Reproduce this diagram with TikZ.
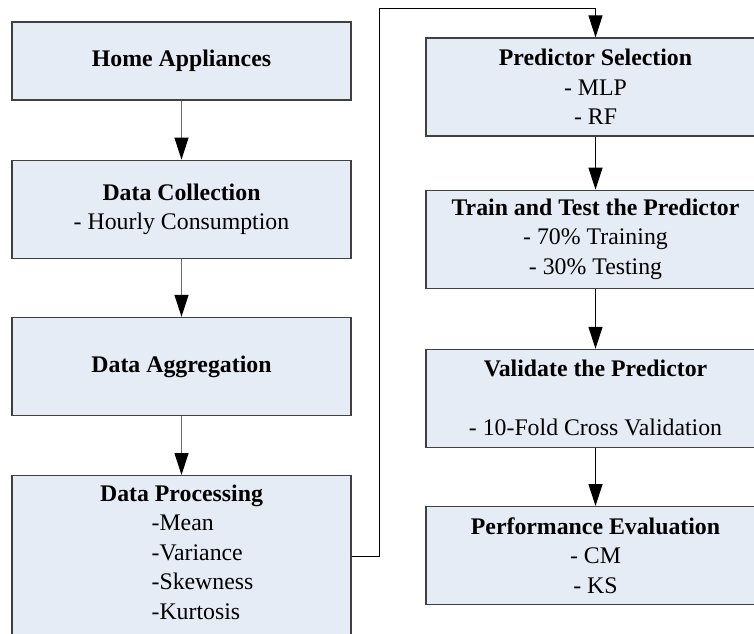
\documentclass[tikz,border=0pt]{standalone}
\usepackage{fontspec}
\setmainfont{Liberation Serif}
\usetikzlibrary{
    arrows.meta,
    positioning,
    calc
}
\definecolor{boxfill}{HTML}{E6ECF6}
\definecolor{boxline}{HTML}{404040}
\definecolor{linegray}{HTML}{6A6A6A}

\begin{document}
\begin{tikzpicture}[
    node distance=29.5pt,
    every node/.style={text=black},
    stage/.style={
        rectangle,
        minimum width=169.5pt,
        minimum height=49pt,
        align=center,
        font=\fontsize{11.9pt}{14.75pt}\selectfont,
        draw=boxline,
        line width=0.6pt,
        fill=boxfill,
        inner sep=0pt
    },
    arrow/.style={
        -{Triangle[length=11pt,width=7pt,black]},
        line width=0.55pt,
        draw=black
    },
    grayarrow/.style={
        arrow,
        draw=linegray
    }
]

\useasboundingbox (0,0) rectangle (377pt,-316.5pt);
\clip (0,0) rectangle (377pt,-316.5pt);

% =====================================================
% Left column
% =====================================================

\node[stage, minimum height=39pt] (home) at (90.75pt,-30.5pt)
{\textbf{Home Appliances}};

\node[stage, below=of home] (collection)
{\textbf{Data Collection}\\- Hourly Consumption};

\node[stage, below=29pt of collection] (aggregation)
{\textbf{Data Aggregation}};

\node[stage, minimum height=81pt, below=of aggregation] (processing)
{\textbf{Data Processing}\\\hspace*{21pt}\begin{tabular}[t]{@{}l@{}}-Mean\\-Variance\\-Skewness\\-Kurtosis\end{tabular}};

% =====================================================
% Right column
% =====================================================

\node[stage] (predictor) at (297.75pt,-43.5pt)
{\textbf{Predictor Selection}\\- MLP\\- RF};

\node[stage, below=26.5pt of predictor] (train)
{\textbf{Train and Test the Predictor}\\- 70\% Training\\- 30\% Testing};

\node[stage, below=30pt of train] (validate)
{\textbf{Validate the Predictor}\\[14.75pt]- 10-Fold Cross Validation};

\node[stage, below=29pt of validate] (performance)
{\textbf{Performance Evaluation}\\- CM\\- KS};

% =====================================================
% Arrows
% =====================================================

\draw[grayarrow] (home) -- (collection);
\draw[grayarrow] (collection) -- (aggregation);
\draw[grayarrow] (aggregation) -- (processing);

\draw[arrow] (processing.east) -- ++(14pt,0)
    |- ($(predictor.north)+(0,14.5pt)$) -- (predictor.north);

\draw[arrow] (predictor) -- (train);
\draw[arrow] (train) -- (validate);
\draw[arrow] (validate) -- (performance);

\end{tikzpicture}
\end{document}
